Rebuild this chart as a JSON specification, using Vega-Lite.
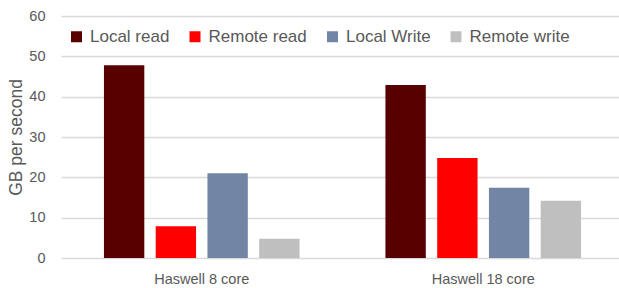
{
  "$schema": "https://vega.github.io/schema/vega-lite/v6.json",
  "width": 558,
  "height": 242,
  "autosize": "none",
  "padding": {"left": 61, "top": 16, "right": 0, "bottom": 30},
  "background": "white",
  "data": {
    "values": [
      {"group": "Haswell 8 core", "series": "Local read", "value": 47.8},
      {"group": "Haswell 8 core", "series": "Remote read", "value": 7.9},
      {"group": "Haswell 8 core", "series": "Local Write", "value": 21.0},
      {"group": "Haswell 8 core", "series": "Remote write", "value": 4.8},
      {"group": "Haswell 18 core", "series": "Local read", "value": 42.9},
      {"group": "Haswell 18 core", "series": "Remote read", "value": 24.8},
      {"group": "Haswell 18 core", "series": "Local Write", "value": 17.4},
      {"group": "Haswell 18 core", "series": "Remote write", "value": 14.2}
    ]
  },
  "mark": {"type": "bar"},
  "encoding": {
    "x": {
      "field": "group",
      "type": "nominal",
      "sort": ["Haswell 8 core", "Haswell 18 core"],
      "scale": {"range": [0, 563], "paddingInner": 0, "paddingOuter": 0},
      "axis": {"title": null, "labelAngle": 0, "domain": false, "ticks": false, "labelPadding": 14, "labelFontSize": 14.5, "labelColor": "#595959", "labelFont": "Liberation Sans"}
    },
    "xOffset": {
      "field": "series",
      "type": "nominal",
      "sort": ["Local read", "Remote read", "Local Write", "Remote write"],
      "scale": {"paddingInner": 0.22, "paddingOuter": 0.83}
    },
    "y": {
      "field": "value",
      "type": "quantitative",
      "scale": {"domain": [0, 60], "nice": false},
      "axis": {"title": "GB per second", "values": [0, 10, 20, 30, 40, 50, 60], "domain": false, "ticks": false, "labelPadding": 16, "labelFontSize": 14.5, "labelColor": "#595959", "labelFont": "Liberation Sans", "titleFontSize": 17.5, "titleFont": "Liberation Sans", "titleColor": "#595959", "titleFontWeight": "normal", "titlePadding": 3, "gridColor": "#d9d9d9", "gridWidth": 1.3}
    },
    "color": {
      "field": "series",
      "type": "nominal",
      "sort": ["Local read", "Remote read", "Local Write", "Remote write"],
      "scale": {"domain": ["Local read", "Remote read", "Local Write", "Remote write"], "range": ["#580000", "#ff0000", "#7285a5", "#bfbfbf"]},
      "legend": {"title": null, "orient": "none", "direction": "horizontal", "legendX": 7, "legendY": 12, "symbolType": "square", "symbolSize": 121, "symbolStrokeWidth": 0, "labelFontSize": 17, "labelFont": "Liberation Sans", "labelColor": "#595959", "labelOffset": 5, "columnPadding": 16.5, "padding": 0, "symbolOffset": 0}
    }
  },
  "config": {"view": {"stroke": null}}
}
